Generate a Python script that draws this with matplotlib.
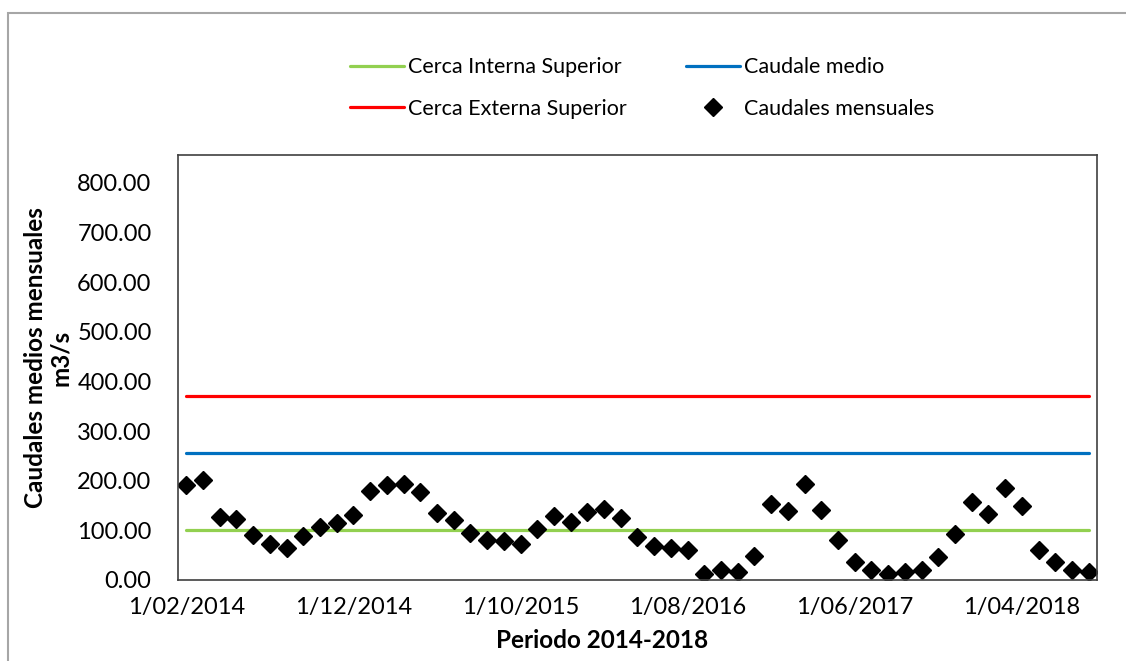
import numpy as np
import pandas as pd
import matplotlib
matplotlib.use('Agg')
import matplotlib.pyplot as plt
from matplotlib.lines import Line2D
from matplotlib.patches import Rectangle

plt.rcParams['font.family'] = ['Lato', 'DejaVu Sans']

# datos mensuales feb-2014 .. ago-2018
meses = pd.date_range('2014-02-01', periods=55, freq='MS')
caudales = [191, 201, 126, 122, 90, 72, 64, 88, 107, 115,
            130, 179, 192, 193, 177, 134, 121, 94, 81, 79,
            72, 103, 128, 117, 136, 142, 124, 86, 69, 64,
            60, 12, 21, 17, 49, 154, 139, 194, 141, 81,
            37, 20, 12, 17, 21, 47, 92, 158, 133, 185,
            150, 60, 37, 21, 17]
cerca_interna = 100.7
caudal_medio = 255
cerca_externa = 371

tick_pos = [0, 10, 20, 30, 40, 50]
tick_lab = ['1/02/2014', '1/12/2014', '1/10/2015', '1/08/2016', '1/06/2017', '1/04/2018']
y_ticks = [0, 100, 200, 300, 400, 500, 600, 700, 800]

x = np.arange(len(meses))

fig = plt.figure(figsize=(11.26, 6.61), dpi=100)
ax = fig.add_axes([178/1126, 1-580/661, (1097-178)/1126, (580-155)/661])

l1, = ax.plot(x, [cerca_interna]*len(x), color='#92D050', lw=2.3, solid_capstyle='round')
l2, = ax.plot(x, [caudal_medio]*len(x), color='#0070C0', lw=2.3, solid_capstyle='round')
l3, = ax.plot(x, [cerca_externa]*len(x), color='#FF0000', lw=2.3, solid_capstyle='round')
l4, = ax.plot(x, caudales, linestyle='none', marker='D', ms=9.3, color='black')

ax.set_xlim(-0.5, len(x) - 0.5)
ax.set_ylim(0, 856)
ax.set_yticks(y_ticks)
ax.set_yticklabels(['%.2f' % v for v in y_ticks])
ax.set_xticks(tick_pos)
ax.set_xticklabels(tick_lab)
ax.tick_params(axis='both', length=0, labelsize=17, colors='black')
ax.tick_params(axis='y', pad=19)
ax.tick_params(axis='x', pad=12)
for s in ax.spines.values():
    s.set_color('#404040')
    s.set_linewidth(1.2)

fig.text(48/1126, 1-358/661, 'Caudales medios mensuales\nm3/s', rotation=90,
         ha='center', va='center', fontsize=17.5, fontweight='bold', linespacing=1.1)
fig.text(602/1126, 1-641/661, 'Periodo 2014-2018', ha='center', va='center',
         fontsize=17.5, fontweight='bold')

# leyenda en dos columnas
leg_kw = dict(loc='center left', frameon=False, fontsize=15.5, handlelength=2.5,
              handletextpad=0.2, labelspacing=1.0, borderpad=0, borderaxespad=0,
              numpoints=1)
leg1 = fig.legend([l1, l3], ['Cerca Interna Superior', 'Cerca Externa Superior'],
                  bbox_to_anchor=(350/1126, 1-88/661), **leg_kw)
leg2 = fig.legend([l2, l4], ['Caudale medio', 'Caudales mensuales'],
                  bbox_to_anchor=(686/1126, 1-88/661), **leg_kw)

# borde del area del grafico
fig.patches.append(Rectangle((8/1126, -0.05), 1.2, 1.05 - 13/661,
                             transform=fig.transFigure, fill=False,
                             edgecolor='#A6A6A6', lw=1.5))

fig.savefig('out.png', dpi=100)
